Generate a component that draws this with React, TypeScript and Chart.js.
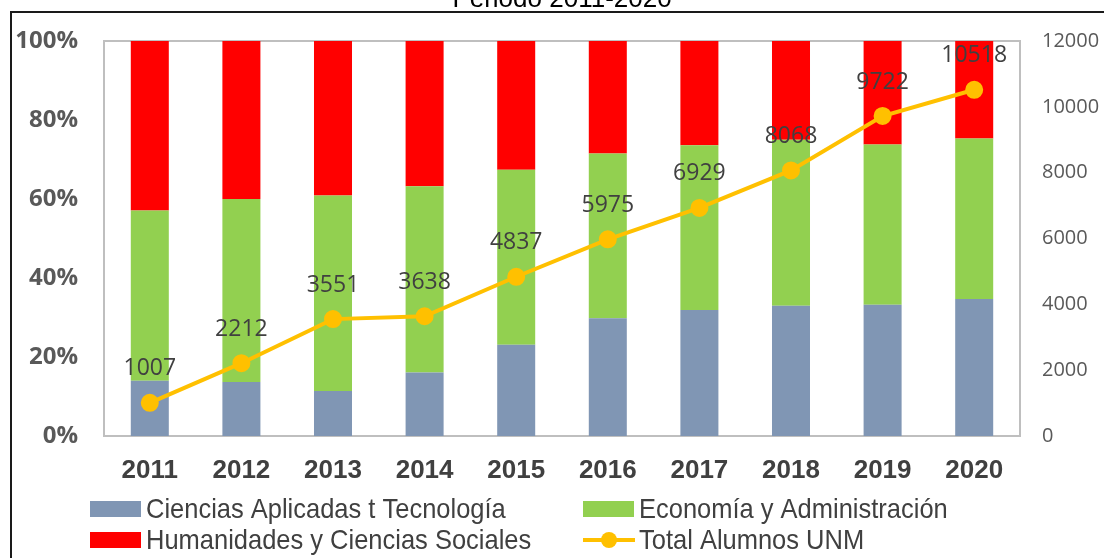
import React, { useEffect, useRef } from "react";
import { Chart, registerables } from "chart.js";

Chart.register(...registerables);

const titleText = "Periodo 2011-2020";
const years = ["2011", "2012", "2013", "2014", "2015", "2016", "2017", "2018", "2019", "2020"];
const cienciasPct = [14.0, 13.7, 11.4, 16.1, 23.1, 29.8, 31.9, 33.0, 33.2, 34.7];
const economiaPct = [43.1, 46.3, 49.5, 47.1, 44.3, 41.7, 41.7, 42.0, 40.6, 40.6];
const humanidadesPct = [42.9, 40.0, 39.1, 36.8, 32.6, 28.5, 26.4, 25.0, 26.2, 24.7];
const totalAlumnos = [1007, 2212, 3551, 3638, 4837, 5975, 6929, 8068, 9722, 10518];
const seriesNames = [
  "Ciencias Aplicadas t Tecnología",
  "Economía y Administración",
  "Humanidades y Ciencias Sociales",
  "Total Alumnos UNM",
];

const BLUE = "#8096B4";
const GREEN = "#92D050";
const RED = "#FF0000";
const YELLOW = "#FFC000";

const SANS = '"Liberation Sans", Arial, sans-serif';

const decorPlugin = {
  id: "decor",
  beforeDatasetsDraw(chart: any) {
    const { ctx, chartArea } = chart;
    ctx.save();
    ctx.strokeStyle = "#BFBFBF";
    ctx.lineWidth = 2;
    ctx.strokeRect(chartArea.left, chartArea.top, chartArea.right - chartArea.left, chartArea.bottom - chartArea.top);
    ctx.restore();
  },
  afterDatasetsDraw(chart: any) {
    const { ctx } = chart;
    const lineIdx = chart.data.datasets.findIndex((d: any) => d.type === "line");
    const meta = chart.getDatasetMeta(lineIdx);
    const data = chart.data.datasets[lineIdx].data;
    ctx.save();
    ctx.font = '23px "Open Sans", sans-serif';
    ctx.fillStyle = "#404040";
    ctx.textAlign = "center";
    ctx.textBaseline = "middle";
    meta.data.forEach((pt: any, i: number) => {
      ctx.fillText(String(data[i]), pt.x, pt.y - 34);
    });
    ctx.restore();
  },
  afterDraw(chart: any) {
    const { ctx } = chart;
    ctx.save();
    // outer frame
    ctx.strokeStyle = "#1a1a1a";
    ctx.lineWidth = 2;
    ctx.beginPath();
    ctx.moveTo(11, 558);
    ctx.lineTo(11, 12);
    ctx.lineTo(1104, 12);
    ctx.stroke();
    // title (cut by top edge)
    ctx.fillStyle = "#000000";
    ctx.font = "26px " + SANS;
    ctx.textAlign = "center";
    ctx.textBaseline = "alphabetic";
    ctx.fillText(titleText, 562, 7);
    // legend
    const cols = [90, 583];
    const rows = [509, 540];
    const colors = [BLUE, GREEN, RED, YELLOW];
    seriesNames.forEach((name, i) => {
      const x = cols[i % 2];
      const y = rows[Math.floor(i / 2)];
      if (i === 3) {
        ctx.strokeStyle = YELLOW;
        ctx.lineWidth = 4;
        ctx.beginPath();
        ctx.moveTo(x, y);
        ctx.lineTo(x + 52, y);
        ctx.stroke();
        ctx.fillStyle = YELLOW;
        ctx.beginPath();
        ctx.arc(x + 26, y, 8, 0, Math.PI * 2);
        ctx.fill();
      } else {
        ctx.fillStyle = colors[i];
        ctx.fillRect(x, y - 8, 51, 16);
      }
      ctx.save();
      ctx.translate(x + 56, y + 1);
      ctx.scale(0.91, 1);
      ctx.font = "28px " + SANS;
      ctx.textAlign = "left";
      ctx.textBaseline = "middle";
      ctx.fillStyle = "#404040";
      ctx.fillText(name, 0, 0);
      ctx.restore();
    });
    ctx.restore();
  },
};

export default function App() {
  const canvasRef = useRef<HTMLCanvasElement>(null);
  useEffect(() => {
    document.body.style.margin = "0";
    const chart = new Chart(canvasRef.current as HTMLCanvasElement, {
      type: "bar",
      data: {
        labels: years,
        datasets: [
          {
            type: "line",
            label: seriesNames[3],
            data: totalAlumnos,
            yAxisID: "y1",
            borderColor: YELLOW,
            backgroundColor: YELLOW,
            borderWidth: 4,
            pointRadius: 7,
            pointBackgroundColor: YELLOW,
            pointBorderColor: YELLOW,
            tension: 0,
            order: 0,
          } as any,
          { label: seriesNames[0], data: cienciasPct, backgroundColor: BLUE, yAxisID: "y", order: 1 },
          { label: seriesNames[1], data: economiaPct, backgroundColor: GREEN, yAxisID: "y", order: 1 },
          { label: seriesNames[2], data: humanidadesPct, backgroundColor: RED, yAxisID: "y", order: 1 },
        ],
      },
      options: {
        animation: false,
        responsive: false,
        maintainAspectRatio: false,
        layout: { padding: { top: 41, left: 0, right: 0, bottom: 0 } },
        datasets: { bar: { categoryPercentage: 1, barPercentage: 0.415 } },
        plugins: { legend: { display: false }, tooltip: { enabled: false } },
        scales: {
          x: {
            stacked: true,
            grid: { display: false, drawTicks: false },
            border: { display: false },
            ticks: {
              color: "#404040",
              padding: 19,
              font: { family: SANS, size: 26, weight: "bold" },
            },
            afterFit: (s: any) => {
              s.height = 122;
            },
          },
          y: {
            stacked: true,
            position: "left",
            min: 0,
            max: 100,
            grid: { display: false, drawTicks: false },
            border: { display: false },
            ticks: {
              stepSize: 20,
              padding: 26,
              color: "#595959",
              font: { family: '"Open Sans", sans-serif', size: 24, weight: "bold" },
              callback: (v: any) => v + "%",
            },
            afterFit: (s: any) => {
              s.width = 104;
            },
          },
          y1: {
            position: "right",
            min: 0,
            max: 12000,
            grid: { display: false, drawTicks: false },
            border: { display: false },
            ticks: {
              stepSize: 2000,
              padding: 22,
              color: "#595959",
              font: { family: '"Open Sans", sans-serif', size: 20 },
              callback: (v: any) => String(v),
            },
            afterFit: (s: any) => {
              s.width = 84;
            },
          },
        },
      },
      plugins: [decorPlugin],
    });
    return () => chart.destroy();
  }, []);
  return (
    <canvas
      ref={canvasRef}
      width={1104}
      height={558}
      style={{ display: "block", width: 1104, height: 558 }}
    />
  );
}
